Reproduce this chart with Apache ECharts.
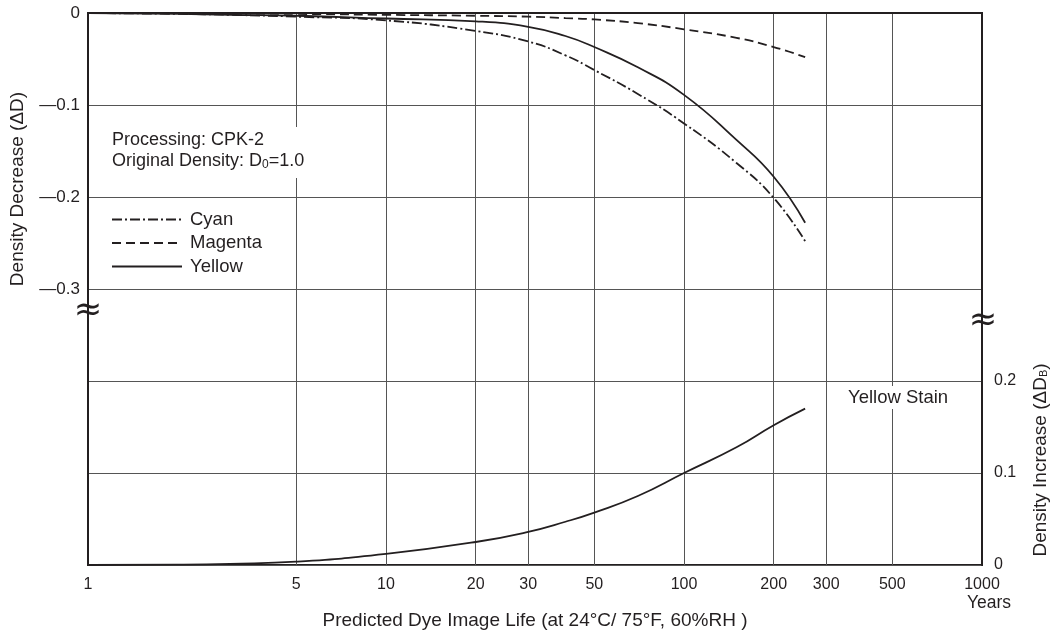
<!DOCTYPE html>
<html><head><meta charset="utf-8">
<script src="https://cdn.jsdelivr.net/npm/echarts@6/dist/echarts.min.js"></script>
<style>html,body{margin:0;padding:0;background:#fff}#c{width:1055px;height:635px}</style>
</head><body><div id="c"></div>
<script>
const years = [1, 2, 3, 5, 10, 20, 30, 40, 50, 70, 100, 150, 200, 255];
const cyan = [0, -0.001, -0.002, -0.004, -0.008, -0.0195, -0.031, -0.046, -0.062, -0.088, -0.12, -0.163, -0.201, -0.248];
const magenta = [0, 0, -0.0005, -0.001, -0.002, -0.003, -0.004, -0.0055, -0.007, -0.011, -0.0177, -0.027, -0.037, -0.048];
const yellow = [0, -0.001, -0.002, -0.003, -0.006, -0.009, -0.015, -0.025, -0.037, -0.059, -0.089, -0.138, -0.178, -0.228];
const yellowStain = [0, 0.0004, 0.0013, 0.0036, 0.012, 0.025, 0.036, 0.047, 0.057, 0.075, 0.1, 0.128, 0.152, 0.17];
const xTickValues = [1, 5, 10, 20, 30, 50, 100, 200, 300, 500, 1000];
const leftTicks = [0, -0.1, -0.2, -0.3];
const leftTickLabels = ['0', '\u20140.1', '\u20140.2', '\u20140.3'];
const rightTicks = [0, 0.1, 0.2];
const rightTickLabels = ['0', '0.1', '0.2'];

const ink = '#231f20';
const font = 'Liberation Sans, Arial, Helvetica, sans-serif';
const pairs = arr => years.map((y, i) => [y, arr[i]]);
function lbl(ticks, labels) {
  return v => { for (let i = 0; i < ticks.length; i++) if (Math.abs(v - ticks[i]) < 1e-6) return labels[i]; return ''; };
}
const chart = echarts.init(document.getElementById('c'));
const lineBase = { type: 'line', symbol: 'none', showSymbol: false, smooth: 0.5, itemStyle: { color: ink } };
chart.setOption({
  animation: false,
  grid: { left: 88, right: 73, top: 13, bottom: 70, show: true, borderColor: ink, borderWidth: 2 },
  xAxis: {
    type: 'log', logBase: 10, min: 1, max: 1000,
    axisLine: { show: true, lineStyle: { color: ink, width: 2 } },
    axisTick: { show: false, customValues: xTickValues },
    axisLabel: { customValues: xTickValues, formatter: v => String(Math.round(v)), color: ink, fontSize: 16, fontFamily: font, margin: 12 },
    splitLine: { show: true, lineStyle: { color: '#555', width: 1 } },
    minorSplitLine: { show: false }
  },
  yAxis: [
    { type: 'value', min: -0.6, max: 0, interval: 0.1, position: 'left',
      axisLine: { show: true, lineStyle: { color: ink, width: 2 } },
      axisTick: { show: false },
      axisLabel: { formatter: lbl(leftTicks, leftTickLabels), color: ink, fontSize: 17, fontFamily: font, margin: 8 },
      splitLine: { show: true, lineStyle: { color: '#555', width: 1 } } },
    { type: 'value', min: 0, max: 0.6, interval: 0.1, position: 'right',
      axisLine: { show: true, lineStyle: { color: ink, width: 2 } },
      axisTick: { show: false },
      axisLabel: { formatter: lbl(rightTicks, rightTickLabels), color: ink, fontSize: 16, fontFamily: font, margin: 12 },
      splitLine: { show: false } }
  ],
  legend: {
    left: 106, top: 205, orient: 'vertical', itemWidth: 70, itemHeight: 16, itemGap: 4.5,
    itemStyle: { opacity: 0 },
    textStyle: { color: ink, fontSize: 18.5, fontFamily: font, padding: [0, 0, 0, 3] },
    data: ['Cyan', 'Magenta', 'Yellow']
  },
  series: [
    Object.assign({}, lineBase, { name: 'Cyan', yAxisIndex: 0, data: pairs(cyan), lineStyle: { color: ink, width: 1.8, type: [10, 3, 2, 3] } }),
    Object.assign({}, lineBase, { name: 'Magenta', yAxisIndex: 0, data: pairs(magenta), lineStyle: { color: ink, width: 1.8, type: [9, 5] } }),
    Object.assign({}, lineBase, { name: 'Yellow', yAxisIndex: 0, data: pairs(yellow), lineStyle: { color: ink, width: 1.8, type: 'solid' } }),
    Object.assign({}, lineBase, { name: 'Yellow Stain', yAxisIndex: 1, data: pairs(yellowStain), lineStyle: { color: ink, width: 1.8, type: 'solid' } })
  ],
  graphic: [
    { type: 'text', left: 108, top: 127, z: 10,
      style: { text: 'Processing: CPK-2\n{n|Original Density: D}{s|0}{n|=1.0}', fill: ink, fontSize: 18, fontFamily: font, lineHeight: 21,
        backgroundColor: '#fff', padding: [3, 6, 6, 4],
        rich: { n: { fontSize: 18, fontFamily: font, fill: ink }, s: { fontSize: 12, fontFamily: font, fill: ink, padding: [6, 0, 0, 0] } } } },
    { type: 'text', left: 844, top: 386, z: 10,
      style: { text: 'Yellow Stain', fill: ink, fontSize: 18.5, fontFamily: font, backgroundColor: '#fff', padding: [2, 4, 2, 4] } },
    { type: 'text', x: 18, y: 189, rotation: Math.PI / 2, z: 10,
      style: { text: 'Density Decrease (\u0394D)', fill: ink, fontSize: 19, fontFamily: font, align: 'center', verticalAlign: 'middle' } },
    { type: 'text', x: 1041, y: 460, rotation: Math.PI / 2, z: 10,
      style: { text: '{n|Density Increase (\u0394D}{s|B}{n|)}', fill: ink, fontSize: 19, fontFamily: font, align: 'center', verticalAlign: 'middle',
        rich: { n: { fontSize: 19, fontFamily: font, fill: ink }, s: { fontSize: 11, fontFamily: font, fill: ink, padding: [6, 0, 0, 0] } } } },
    { type: 'text', x: 535, y: 621, z: 10,
      style: { text: 'Predicted Dye Image Life (at 24\u00b0C/ 75\u00b0F, 60%RH )', fill: ink, fontSize: 19, fontFamily: font, align: 'center', verticalAlign: 'middle' } },
    { type: 'text', x: 989, y: 603, z: 10,
      style: { text: 'Years', fill: ink, fontSize: 17.5, fontFamily: font, align: 'center', verticalAlign: 'middle' } },
    { type: 'text', x: 88, y: 311, z: 10,
      style: { text: '\u2248', fill: ink, fontSize: 34, fontFamily: 'DejaVu Sans', align: 'center', verticalAlign: 'middle' } },
    { type: 'text', x: 983, y: 321, z: 10,
      style: { text: '\u2248', fill: ink, fontSize: 34, fontFamily: 'DejaVu Sans', align: 'center', verticalAlign: 'middle' } }
  ]
});
</script></body></html>
